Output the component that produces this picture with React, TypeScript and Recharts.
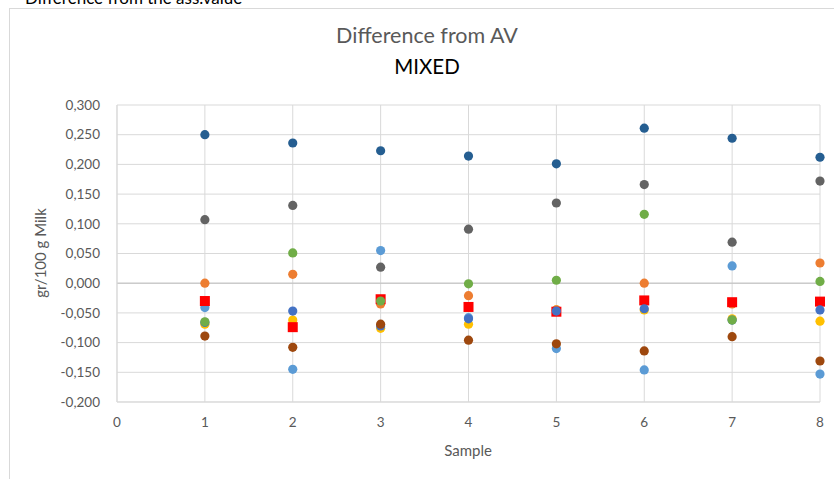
import React from 'react'
import {
  ScatterChart,
  Scatter,
  XAxis,
  YAxis,
  CartesianGrid,
  ReferenceLine,
} from 'recharts'

const samples = [1, 2, 3, 4, 5, 6, 7, 8]
const xTicks = [0, 1, 2, 3, 4, 5, 6, 7, 8]
const yTicks = [-0.2, -0.15, -0.1, -0.05, 0, 0.05, 0.1, 0.15, 0.2, 0.25, 0.3]

// one list per lab
const yellowVals = [-0.069, -0.062, -0.076, -0.069, -0.045, -0.045, -0.060, -0.064]
const orangeVals = [0.0, 0.015, -0.035, -0.021, -0.045, 0.0, -0.035, 0.034]
const lightBlueVals = [-0.041, -0.145, 0.055, -0.058, -0.110, -0.146, 0.029, -0.153]
const avgVals = [-0.030, -0.074, -0.027, -0.040, -0.048, -0.029, -0.032, -0.031]
const blueVals = [-0.066, -0.047, -0.072, -0.060, -0.047, -0.043, -0.062, -0.045]
const greenVals = [-0.065, 0.051, -0.030, -0.001, 0.005, 0.116, -0.062, 0.003]
const brownVals = [-0.089, -0.108, -0.069, -0.096, -0.102, -0.114, -0.090, -0.131]
const grayVals = [0.107, 0.131, 0.027, 0.091, 0.135, 0.166, 0.069, 0.172]
const darkBlueVals = [0.250, 0.236, 0.223, 0.214, 0.201, 0.261, 0.244, 0.212]

const toPoints = (vals: number[]) => samples.map((s, i) => ({ x: s, y: vals[i] }))

const series = [
  { name: 'yellow', color: '#FFC000', vals: yellowVals },
  { name: 'orange', color: '#ED7D31', vals: orangeVals },
  { name: 'lightBlue', color: '#5B9BD5', vals: lightBlueVals },
  { name: 'avg', color: '#FF0000', vals: avgVals, square: true },
  { name: 'blue', color: '#4472C4', vals: blueVals },
  { name: 'green', color: '#70AD47', vals: greenVals },
  { name: 'brown', color: '#9E480E', vals: brownVals },
  { name: 'gray', color: '#636363', vals: grayVals },
  { name: 'darkBlue', color: '#255E91', vals: darkBlueVals },
]

const fmt = (v: number) => v.toFixed(3).replace('.', ',')

const font = 'Lato, "Open Sans", sans-serif'

const SquareDot = (props: any) => {
  const { cx, cy, fill } = props
  return <rect x={cx - 5} y={cy - 5} width={10} height={10} fill={fill} />
}

const CircleDot = (props: any) => {
  const { cx, cy, fill } = props
  return <circle cx={cx} cy={cy} r={4.6} fill={fill} />
}

export default function App() {
  return (
    <div
      style={{
        position: 'absolute',
        left: 0,
        top: 0,
        width: 834,
        height: 479,
        overflow: 'hidden',
        background: '#fff',
        fontFamily: font,
      }}
    >
      <div style={{ position: 'absolute', left: 25, top: -13, fontSize: 17, color: '#000' }}>
        Difference from the ass.value
      </div>
      <div
        style={{
          position: 'absolute',
          left: 9,
          top: 8,
          width: 900,
          height: 600,
          border: '1px solid #d9d9d9',
        }}
      />
      <div
        style={{
          position: 'absolute',
          left: 0,
          width: 854,
          top: 22,
          textAlign: 'center',
          fontSize: 21.5,
          color: '#595959',
        }}
      >
        Difference from AV
      </div>
      <div
        style={{
          position: 'absolute',
          left: 0,
          width: 854,
          top: 54,
          textAlign: 'center',
          fontSize: 20.5,
          color: '#000',
        }}
      >
        MIXED
      </div>
      <div
        style={{
          position: 'absolute',
          left: 40,
          top: 253,
          transform: 'translate(-50%, -50%) rotate(-90deg)',
          fontSize: 15,
          color: '#595959',
          whiteSpace: 'nowrap',
        }}
      >
        gr/100 g Milk
      </div>
      <div
        style={{
          position: 'absolute',
          left: 468,
          top: 450,
          transform: 'translate(-50%, -50%)',
          fontSize: 15,
          color: '#595959',
        }}
      >
        Sample
      </div>
      <div style={{ position: 'absolute', left: 0, top: 0 }}>
        <ScatterChart
          width={834}
          height={479}
          margin={{ top: 105, right: 14, bottom: 47, left: 0 }}
        >
          <CartesianGrid stroke="#d9d9d9" strokeWidth={1} />
          <XAxis
            type="number"
            dataKey="x"
            domain={[0, 8]}
            ticks={xTicks}
            interval={0}
            height={30}
            tickLine={false}
            tickSize={0}
            tickMargin={15}
            axisLine={{ stroke: '#d9d9d9' }}
            tick={{ fontSize: 13.5, fill: '#595959', fontFamily: font }}
          />
          <YAxis
            type="number"
            dataKey="y"
            domain={[-0.2, 0.3]}
            ticks={yTicks}
            interval={0}
            width={117}
            tickLine={false}
            tickSize={0}
            tickMargin={17}
            axisLine={{ stroke: '#d9d9d9' }}
            tickFormatter={fmt}
            tick={{ fontSize: 13.5, fill: '#595959', fontFamily: font }}
          />
          <ReferenceLine y={0} stroke="#bfbfbf" />
          {series.map((s) => (
            <Scatter
              key={s.name}
              name={s.name}
              data={toPoints(s.vals)}
              fill={s.color}
              shape={s.square ? SquareDot : CircleDot}
              isAnimationActive={false}
            />
          ))}
        </ScatterChart>
      </div>
    </div>
  )
}
